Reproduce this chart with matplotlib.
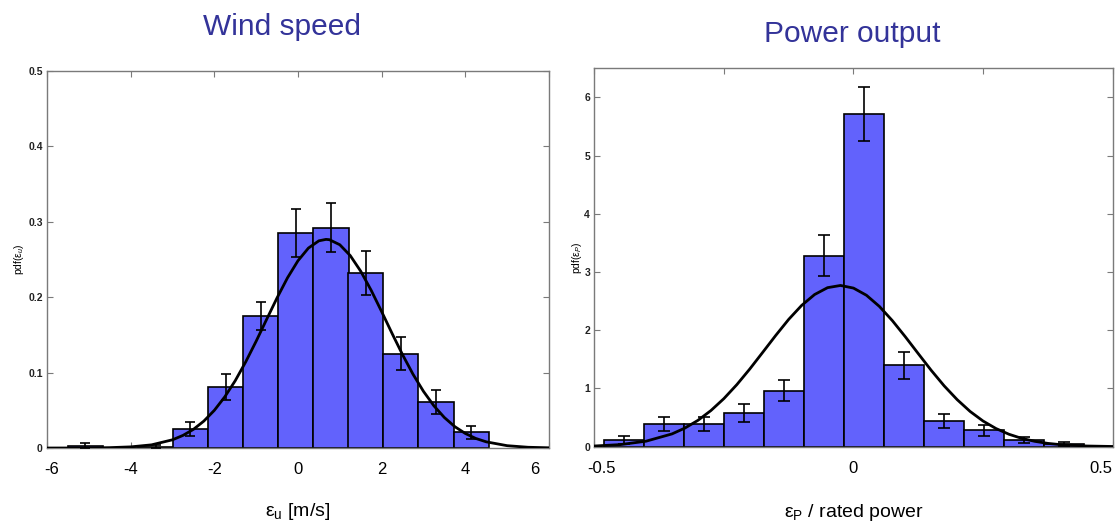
import matplotlib
matplotlib.use('Agg')
import matplotlib.pyplot as plt
from matplotlib.transforms import ScaledTranslation

plt.rcParams['font.family'] = ['Liberation Sans', 'DejaVu Sans']
plt.rcParams['mathtext.fontset'] = 'custom'
plt.rcParams['mathtext.rm'] = 'Liberation Sans'
plt.rcParams['mathtext.it'] = 'Liberation Sans:italic'

# wind speed error histogram (pdf) with error bars
wind_centers = [-5.08, -4.24, -3.40, -2.57, -1.73, -0.89, -0.05, 0.79, 1.62, 2.46, 3.30, 4.14]
wind_width = 0.838
wind_pdf = [0.003, 0.0, 0.002, 0.025, 0.081, 0.175, 0.285, 0.292, 0.232, 0.125, 0.061, 0.021]
wind_err = [0.003, 0.0, 0.002, 0.0095, 0.017, 0.019, 0.032, 0.0325, 0.029, 0.0215, 0.0155, 0.0085]

# fitted normal curve
wind_fit_x = [-6, -5.5, -5, -4.5, -4, -3.5, -3, -2.75, -2.5, -2.25, -2, -1.75, -1.5, -1.25,
              -1, -0.75, -0.5, -0.25, 0, 0.25, 0.5, 0.67, 0.75, 1, 1.25, 1.5, 1.75, 2, 2.25,
              2.5, 2.75, 3, 3.25, 3.5, 3.75, 4, 4.25, 4.5, 5, 5.5, 6]
wind_fit_y = [0.0, 0.00003, 0.0001, 0.0005, 0.0015, 0.0042, 0.0109, 0.0167, 0.0247, 0.0357,
              0.0499, 0.0678, 0.0892, 0.1141, 0.1415, 0.1704, 0.1990, 0.2256, 0.2482, 0.2650,
              0.2746, 0.2765, 0.2761, 0.2694, 0.2550, 0.2343, 0.2090, 0.1808, 0.1518, 0.1237,
              0.0978, 0.0751, 0.0559, 0.0404, 0.0283, 0.0193, 0.0127, 0.0082, 0.0031, 0.0010,
              0.0003]

# power output error histogram
power_centers = [-0.4424, -0.3652, -0.2880, -0.2108, -0.1336, -0.0564, 0.0208, 0.0980,
                 0.1752, 0.2524, 0.3296, 0.4068]
power_width = 0.0772
power_pdf = [0.11, 0.39, 0.39, 0.58, 0.96, 3.28, 5.72, 1.40, 0.44, 0.28, 0.12, 0.05]
power_err = [0.07, 0.12, 0.12, 0.15, 0.18, 0.35, 0.46, 0.23, 0.12, 0.10, 0.05, 0.03]

power_fit_x = [-0.5, -0.45, -0.4, -0.35, -0.325, -0.3, -0.275, -0.25, -0.225, -0.2, -0.175,
               -0.15, -0.125, -0.1, -0.075, -0.05, -0.025, 0.0, 0.025, 0.05, 0.075, 0.1,
               0.125, 0.15, 0.175, 0.2, 0.225, 0.25, 0.275, 0.3, 0.325, 0.35, 0.375, 0.4,
               0.45, 0.5]
power_fit_y = [0.012, 0.036, 0.095, 0.220, 0.321, 0.453, 0.621, 0.826, 1.066, 1.335, 1.622,
               1.911, 2.187, 2.427, 2.614, 2.732, 2.770, 2.725, 2.602, 2.410, 2.166, 1.889,
               1.599, 1.312, 1.045, 0.809, 0.606, 0.441, 0.312, 0.214, 0.142, 0.092, 0.057,
               0.035, 0.012, 0.004]

bar_color = '#6262fc'
title_color = '#333399'
frame_color = '#7a7a7a'

fig = plt.figure(figsize=(11.16, 5.24), dpi=100)
ax1 = fig.add_axes([0.0421, 0.1450, 0.4498, 0.7200])
ax2 = fig.add_axes([0.5325, 0.1475, 0.4645, 0.7221])


def style(ax):
    for s in ax.spines.values():
        s.set_color(frame_color)
        s.set_linewidth(1.0)
    ax.tick_params(direction='in', top=True, right=True, length=4, width=0.8,
                   color=frame_color)
    ax.tick_params(axis='x', labelsize=12, pad=10, labelcolor='black')
    ax.tick_params(axis='y', labelsize=7.5, pad=3, labelcolor='#222222')
    for lab in ax.get_yticklabels():
        lab.set_fontweight('bold')


def nudge_ends(ax, left_px, right_px):
    # the slide's x labels at both ends sit a bit inside the frame
    labs = ax.get_xticklabels()
    labs[0].set_transform(labs[0].get_transform() +
                          ScaledTranslation(left_px / 100, 0, fig.dpi_scale_trans))
    labs[-1].set_transform(labs[-1].get_transform() +
                           ScaledTranslation(right_px / 100, 0, fig.dpi_scale_trans))


ax1.bar(wind_centers, wind_pdf, width=wind_width, color=bar_color, edgecolor='black',
        linewidth=1.2, zorder=2)
ax1.errorbar(wind_centers[:1] + wind_centers[2:], wind_pdf[:1] + wind_pdf[2:],
             yerr=wind_err[:1] + wind_err[2:], fmt='none', ecolor='black',
             elinewidth=1.2, capsize=3.5, capthick=1.2, zorder=3)
ax1.plot(wind_fit_x, wind_fit_y, color='black', lw=2, zorder=4)
ax1.set_xlim(-6, 6)
ax1.set_ylim(0, 0.5)
ax1.set_xticks([-6, -4, -2, 0, 2, 4, 6])
ax1.set_xticklabels(['-6', '-4', '-2', '0', '2', '4', '6'])
ax1.set_yticks([0, 0.1, 0.2, 0.3, 0.4, 0.5])
ax1.set_yticklabels(['0', '0.1', '0.2', '0.3', '0.4', '0.5'])
style(ax1)
nudge_ends(ax1, 5, -14)
ax1.set_ylabel('pdf(ε$_u$)', fontsize=7.5, labelpad=1.5)
ax1.set_xlabel('ε$_\\mathregular{u}$ [m/s]', fontsize=14, labelpad=17)

ax2.bar(power_centers, power_pdf, width=power_width, color=bar_color, edgecolor='black',
        linewidth=1.2, zorder=2)
ax2.errorbar(power_centers, power_pdf, yerr=power_err, fmt='none', ecolor='black',
             elinewidth=1.2, capsize=4, capthick=1.2, zorder=3)
ax2.plot(power_fit_x, power_fit_y, color='black', lw=2, zorder=4)
ax2.set_xlim(-0.5, 0.5)
ax2.set_ylim(0, 6.5)
ax2.set_xticks([-0.5, -0.25, 0, 0.25, 0.5])
ax2.set_xticklabels(['-0.5', '', '0', '', '0.5'])
ax2.set_yticks([0, 1, 2, 3, 4, 5, 6])
ax2.set_yticklabels(['0', '1', '2', '3', '4', '5', '6'])
style(ax2)
nudge_ends(ax2, 7, -12)
ax2.set_ylabel('pdf(ε$_P$)', fontsize=7.5, labelpad=0)
ax2.set_xlabel('ε$_\\mathregular{P}$ / rated power', fontsize=14, labelpad=19)

fig.text(0.253, 0.948, 'Wind speed', fontsize=21.5, color=title_color, ha='center', va='center')
fig.text(0.764, 0.935, 'Power output', fontsize=21.5, color=title_color, ha='center', va='center')

fig.savefig('out.png', dpi=100)
